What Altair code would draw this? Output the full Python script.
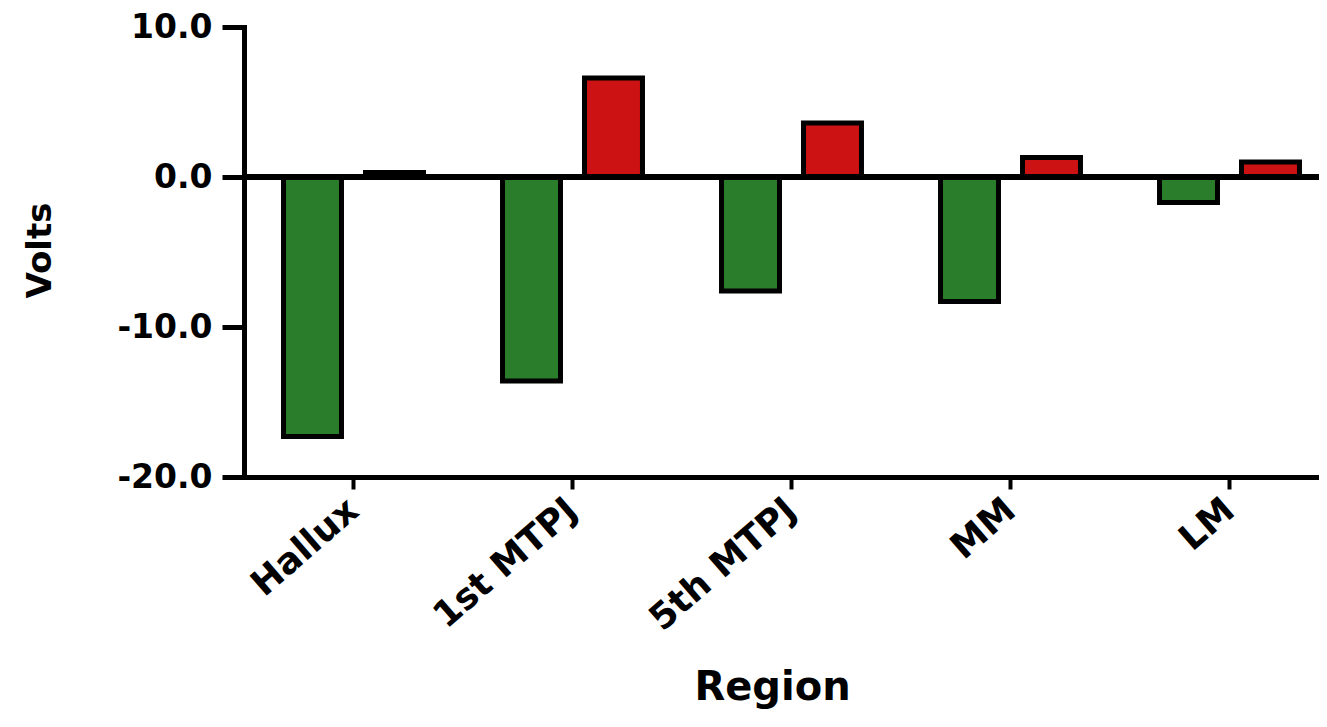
import altair as alt
import pandas as pd

regions = ["Hallux", "1st MTPJ", "5th MTPJ", "MM", "LM"]
series_names = ["Condition A", "Condition B"]
green_values = [-17.3, -13.6, -7.6, -8.3, -1.7]
red_values = [0.3, 6.6, 3.6, 1.3, 1.0]
series_colors = ["#2a7d2a", "#cc1212"]
y_tick_values = [-20, -10, 0, 10]

rows = []
for reg, g, r in zip(regions, green_values, red_values):
    rows.append({"Region": reg, "Series": series_names[0], "Volts": g})
    rows.append({"Region": reg, "Series": series_names[1], "Volts": r})
df = pd.DataFrame(rows)

FONT = "DejaVu Sans"

x_axis = alt.Axis(
    title="Region", titleFont=FONT, titleFontSize=40, titleFontWeight="bold",
    titleColor="black", titleX=528, titleY=222, titleAlign="center",
    titleBaseline="alphabetic",
    labelAngle=-41, labelAlign="right", labelBaseline="middle",
    labelFont=FONT, labelFontSize=36, labelFontWeight="bold", labelColor="black",
    labelPadding=16, labelOverlap=False, labelLimit=400,
    tickSize=12, tickWidth=4, tickColor="black",
    domainWidth=5, domainColor="black", grid=False,
)

y_axis = alt.Axis(
    values=y_tick_values,
    labelExpr="datum.value < 0 ? '-' + format(-datum.value, '.1f') : format(datum.value, '.1f')",
    title="Volts", titleFont=FONT, titleFontSize=34, titleFontWeight="bold",
    titleColor="black", titleX=-204, titleY=223, titleAngle=270,
    titleAlign="center", titleBaseline="middle",
    labelFont=FONT, labelFontSize=33, labelFontWeight="bold", labelColor="black",
    labelPadding=10,
    tickSize=22, tickWidth=5, tickColor="black",
    domainWidth=5, domainColor="black", domainCap="square", grid=False,
)

bars = alt.Chart(df).mark_bar(stroke="black", strokeWidth=5, strokeJoin="miter").encode(
    x=alt.X("Region:N", sort=regions,
            scale=alt.Scale(range=[0, 1095], paddingInner=0, paddingOuter=0),
            axis=x_axis),
    xOffset=alt.XOffset("Series:N", sort=series_names,
                        scale=alt.Scale(paddingInner=0.293, paddingOuter=0.482)),
    y=alt.Y("Volts:Q", scale=alt.Scale(domain=[-20, 10], nice=False), axis=y_axis),
    color=alt.Color("Series:N", scale=alt.Scale(domain=series_names, range=series_colors),
                    legend=None),
)

zero_rule = alt.Chart(df).mark_rule(color="black", strokeWidth=5).encode(
    y=alt.datum(0)
)

chart = alt.layer(bars, zero_rule).properties(
    width=1075,
    height=450,
    autosize=alt.AutoSizeParams(type="none"),
    padding={"left": 236, "top": 19, "right": 0, "bottom": 234},
    background="white",
).configure_view(strokeWidth=0)

chart.save("out.html", embed_options={"renderer": "svg", "actions": False})
